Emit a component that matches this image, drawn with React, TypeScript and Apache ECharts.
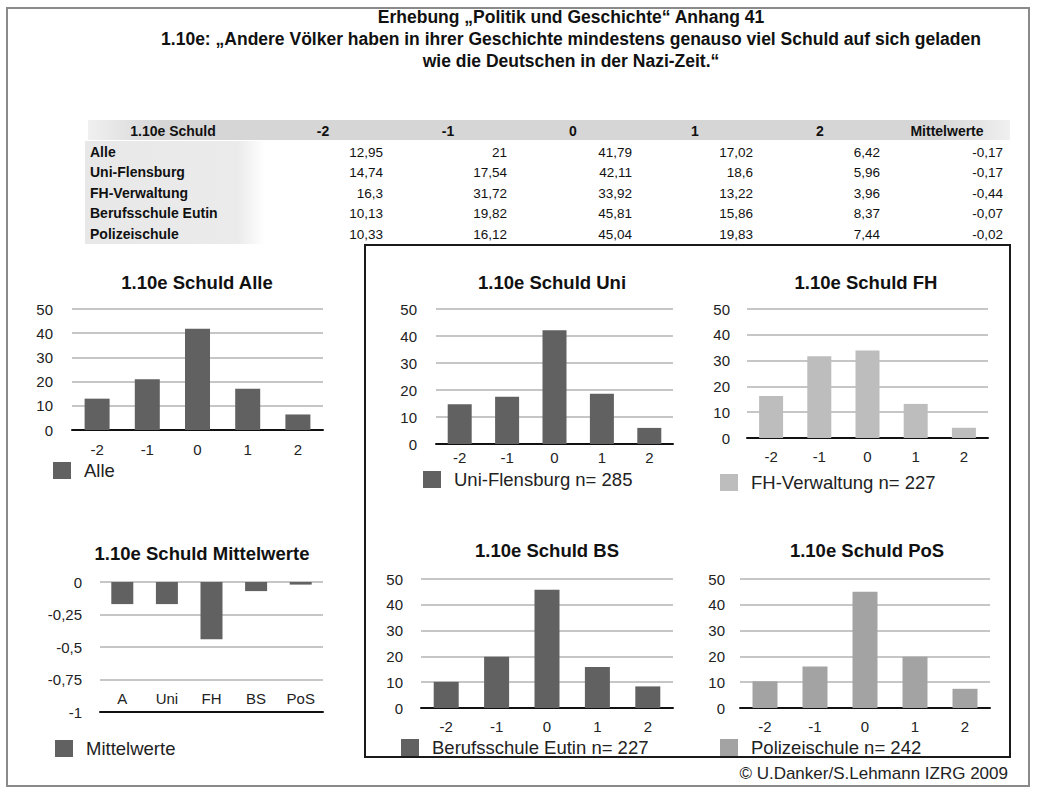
import React, { useEffect, useRef } from "react";
import * as echarts from "echarts";

const categories = ["-2", "-1", "0", "1", "2"];
const alle = [12.95, 21, 41.79, 17.02, 6.42];
const uni = [14.74, 17.54, 42.11, 18.6, 5.96];
const fh = [16.3, 31.72, 33.92, 13.22, 3.96];
const bs = [10.13, 19.82, 45.81, 15.86, 8.37];
const pos = [10.33, 16.12, 45.04, 19.83, 7.44];
const meanCategories = ["A", "Uni", "FH", "BS", "PoS"];
const means = [-0.17, -0.17, -0.44, -0.07, -0.02];

const tableHeader = ["1.10e Schuld", "-2", "-1", "0", "1", "2", "Mittelwerte"];
const rowLabels = ["Alle", "Uni-Flensburg", "FH-Verwaltung", "Berufsschule Eutin", "Polizeischule"];

const titleLines = [
  "Erhebung \u201EPolitik und Geschichte\u201C Anhang 41",
  "1.10e: \u201EAndere V\u00F6lker haben in ihrer Geschichte mindestens genauso viel Schuld auf sich geladen",
  "wie die Deutschen in der Nazi-Zeit.\u201C",
];
const copyright = "\u00A9 U.Danker/S.Lehmann IZRG 2009";

const FONT = "'Liberation Sans', Arial, Helvetica, sans-serif";
const DARK = "#616161";
const LIGHT = "#bdbdbd";
const MID = "#a3a3a3";

const fmt = (v: number) => String(v).replace(".", ",");

function txt(x: number, y: number, text: string, opts: any = {}) {
  return {
    type: "text",
    x,
    y,
    silent: true,
    style: {
      text,
      fill: opts.fill || "#111",
      fontSize: opts.size || 13,
      fontWeight: opts.bold ? "bold" : "normal",
      fontFamily: FONT,
      align: opts.align || "left",
      verticalAlign: "middle",
      textAlign: opts.align || "left",
      textVerticalAlign: "middle",
    },
  };
}

export default function App() {
  const ref = useRef<HTMLDivElement>(null);
  useEffect(() => {
    if (!ref.current) return;
    const chart = echarts.init(ref.current, null, { renderer: "svg" });

    const grids = [
      { left: 72, top: 309, width: 251, height: 121 },
      { left: 100, top: 582, width: 223, height: 130 },
      { left: 436, top: 309, width: 237, height: 135 },
      { left: 747, top: 309, width: 241, height: 129 },
      { left: 421, top: 579, width: 252, height: 129 },
      { left: 740, top: 579, width: 250, height: 129 },
    ];
    const xMargins = [12, 6, 6, 11, 11, 11];
    const yMargins = [19, 18, 19, 17, 18, 15];

    const xAxes = grids.map((_, i) => ({
      type: "category",
      gridIndex: i,
      data: i === 1 ? meanCategories : categories,
      axisTick: { show: false },
      axisLine: { onZero: false, lineStyle: { color: "#111", width: 2 } },
      axisLabel: {
        color: "#222",
        fontSize: 15,
        fontFamily: FONT,
        margin: xMargins[i],
        inside: i === 1,
      },
    }));
    const yAxes = grids.map((_, i) => ({
      type: "value",
      gridIndex: i,
      min: i === 1 ? -1 : 0,
      max: i === 1 ? 0 : 50,
      interval: i === 1 ? 0.25 : 10,
      axisLine: { show: false },
      axisTick: { show: false },
      splitLine: { lineStyle: { color: "#b3b3b3", width: 1.5 } },
      axisLabel: {
        color: "#222",
        fontSize: 15,
        fontFamily: FONT,
        margin: yMargins[i],
        formatter: (v: number) => fmt(v),
      },
    }));

    const seriesDefs = [
      { name: "Alle", data: alle, color: DARK, w: 25 },
      { name: "Mittelwerte", data: means, color: DARK, w: 22 },
      { name: "Uni-Flensburg n= 285", data: uni, color: DARK, w: 24 },
      { name: "FH-Verwaltung n= 227", data: fh, color: LIGHT, w: 24 },
      { name: "Berufsschule Eutin n= 227", data: bs, color: DARK, w: 25 },
      { name: "Polizeischule n= 242", data: pos, color: MID, w: 25 },
    ];
    const series = seriesDefs.map((s, i) => ({
      type: "bar",
      name: s.name,
      xAxisIndex: i,
      yAxisIndex: i,
      data: s.data,
      barWidth: s.w,
      itemStyle: { color: s.color },
    }));

    const legendPos = [
      [53, 461],
      [55, 739],
      [423, 470],
      [720, 473],
      [401, 738],
      [720, 738],
    ];
    const legends = seriesDefs.map((s, i) => ({
      data: [s.name],
      left: legendPos[i][0],
      top: legendPos[i][1],
      icon: "rect",
      itemWidth: 18,
      itemHeight: 17,
      selectedMode: false,
      padding: 0,
      textStyle: { fontSize: 18.5, fontFamily: FONT, color: "#222", padding: [0, 0, 0, 8] },
    }));

    const graphics: any[] = [];
    graphics.push({
      type: "rect",
      shape: { x: 7, y: 8, width: 1022, height: 778 },
      style: { fill: "none", stroke: "#8a8a8a", lineWidth: 2 },
      silent: true,
    });
    graphics.push({
      type: "rect",
      shape: { x: 88, y: 120, width: 922, height: 20 },
      style: {
        fill: new echarts.graphic.LinearGradient(0, 0, 1, 0, [
          { offset: 0, color: "#f0f0f0" },
          { offset: 0.08, color: "#d6d6d6" },
          { offset: 0.92, color: "#d6d6d6" },
          { offset: 1, color: "#f0f0f0" },
        ]),
      },
      silent: true,
      z: -1,
    });
    graphics.push({
      type: "rect",
      shape: { x: 85, y: 141, width: 180, height: 103 },
      style: {
        fill: new echarts.graphic.LinearGradient(0, 0, 1, 0, [
          { offset: 0, color: "#e8e8e8" },
          { offset: 0.85, color: "#ebebeb" },
          { offset: 1, color: "#ffffff" },
        ]),
      },
      silent: true,
      z: -1,
    });
    graphics.push({
      type: "rect",
      shape: { x: 365, y: 245, width: 645, height: 512 },
      style: { fill: "none", stroke: "#1a1a1a", lineWidth: 2 },
      silent: true,
    });
    const titleY = [17, 39, 61];
    titleLines.forEach((t, i) => graphics.push(txt(571, titleY[i], t, { size: 17.5, bold: true, align: "center" })));
    const headerX = [173, 323, 448, 573, 695, 820, 947];
    tableHeader.forEach((h, i) => graphics.push(txt(headerX[i], 131, h, { size: 14, bold: true, align: "center" })));
    const rowY = [152, 172, 193, 213, 234];
    const valueRight = [383, 507, 632, 753, 880, 1003];
    const rowsData = [alle, uni, fh, bs, pos];
    rowLabels.forEach((r, ri) => {
      graphics.push(txt(90, rowY[ri], r, { size: 14, bold: true }));
      const vals = [...rowsData[ri], means[ri]];
      vals.forEach((v, ci) => graphics.push(txt(valueRight[ci], rowY[ri], fmt(v), { size: 13.5, align: "right" })));
    });
    const chartTitles = [
      ["1.10e Schuld Alle", 197, 282],
      ["1.10e Schuld Mittelwerte", 202, 553],
      ["1.10e Schuld Uni", 552, 282],
      ["1.10e Schuld FH", 866, 282],
      ["1.10e Schuld BS", 547, 550],
      ["1.10e Schuld PoS", 867, 550],
    ];
    chartTitles.forEach(([t, x, y]) =>
      graphics.push(txt(x as number, y as number, t as string, { size: 18.5, bold: true, align: "center" }))
    );
    graphics.push(txt(1008, 773, copyright, { size: 17, align: "right", fill: "#222" }));

    chart.setOption({
      animation: false,
      backgroundColor: "#ffffff",
      grid: grids.map((g) => ({ ...g, containLabel: false })),
      xAxis: xAxes,
      yAxis: yAxes,
      series,
      legend: legends,
      graphic: graphics,
    });
    return () => chart.dispose();
  }, []);
  return (
    <div
      ref={ref}
      style={{ position: "absolute", left: 0, top: 0, width: 1039, height: 794, background: "#fff" }}
    />
  );
}
